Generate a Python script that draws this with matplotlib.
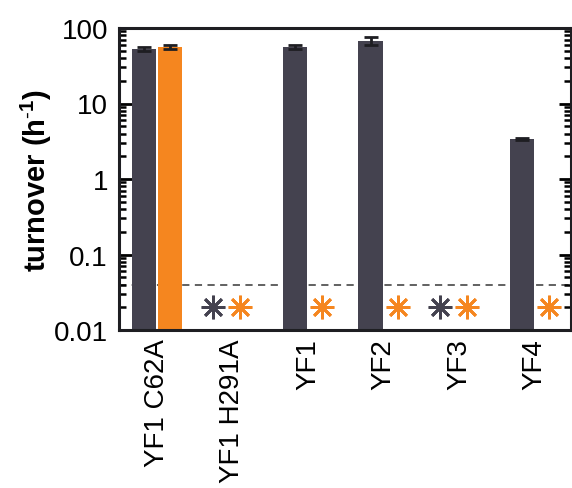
import numpy as np
import matplotlib.pyplot as plt
from matplotlib.ticker import LogLocator, NullFormatter, FixedFormatter, FixedLocator

plt.rcParams['font.family'] = ['Liberation Sans', 'DejaVu Sans']
plt.rcParams['mathtext.fontset'] = 'custom'
plt.rcParams['mathtext.bf'] = 'Liberation Sans:bold'
plt.rcParams['mathtext.rm'] = 'Liberation Sans'

samples = ["YF1 C62A", "YF1 H291A", "YF1", "YF2", "YF3", "YF4"]
# turnover (h^-1); None = below detection limit
dark_vals = [52.5, None, 56.0, 67.0, None, 3.4]
dark_err = [3.0, 0, 3.0, 8.0, 0, 0.12]
orange_vals = [55.5, None, None, None, None, None]
orange_err = [3.5, 0, 0, 0, 0, 0]
detect_limit = 0.04
nd_level = 0.0202

dark = "#44424f"
orange = "#f5861f"

fig = plt.figure(figsize=(5.72, 4.89), dpi=100)
ax = fig.add_axes([119/572, 1-331/489, 452/572, 302/489])

x = np.arange(len(samples))
off = 0.172
w = 0.32
star = dict(marker=(8, 2, 0), ms=17, mew=2.0, zorder=3)
for i in x:
    both_nd = dark_vals[i] is None and orange_vals[i] is None
    if dark_vals[i] is not None:
        ax.bar(i - off, dark_vals[i], w, color=dark, zorder=2)
        ax.errorbar(i - off, dark_vals[i], yerr=dark_err[i], color="#1e1e22",
                    capsize=5, capthick=2, elinewidth=2, zorder=3)
    else:
        ax.plot(i - 0.25, nd_level, color=dark, **star)
    if orange_vals[i] is not None:
        ax.bar(i + off, orange_vals[i], w, color=orange, zorder=2)
        ax.errorbar(i + off, orange_vals[i], yerr=orange_err[i], color="#1e1e22",
                    capsize=5, capthick=2, elinewidth=2, zorder=3)
    else:
        ax.plot(i + (0.1 if both_nd else 0.19), nd_level, color=orange, **star)

ax.axhline(detect_limit, color="#555555", ls=(0, (4, 3)), lw=1.3, zorder=1)

ax.set_yscale("log")
ax.set_ylim(0.01, 100)
ax.set_xlim(-0.5, 5.48)
ax.yaxis.set_major_locator(FixedLocator([0.01, 0.1, 1, 10, 100]))
ax.yaxis.set_major_formatter(FixedFormatter(["0.01", "0.1", "1", "10", "100"]))
ax.yaxis.set_minor_locator(LogLocator(base=10, subs=np.arange(2, 10)))
ax.yaxis.set_minor_formatter(NullFormatter())
ax.tick_params(axis="y", which="major", direction="in", length=9, width=2,
               labelsize=20, right=True, pad=8)
ax.tick_params(axis="y", which="minor", direction="in", length=5, width=1.8,
               right=True)
ax.set_xticks(x)
ax.set_xticklabels(samples, rotation=90, fontsize=20)
ax.tick_params(axis="x", length=0, pad=6)
for s in ax.spines.values():
    s.set_linewidth(2.2)
    s.set_color("#1e1e22")

ax.set_ylabel("turnover (h$^{\\mathbf{\\text{-}1}}$)", fontsize=21,
              fontweight="bold", labelpad=0)

fig.savefig("out.png", dpi=100)
